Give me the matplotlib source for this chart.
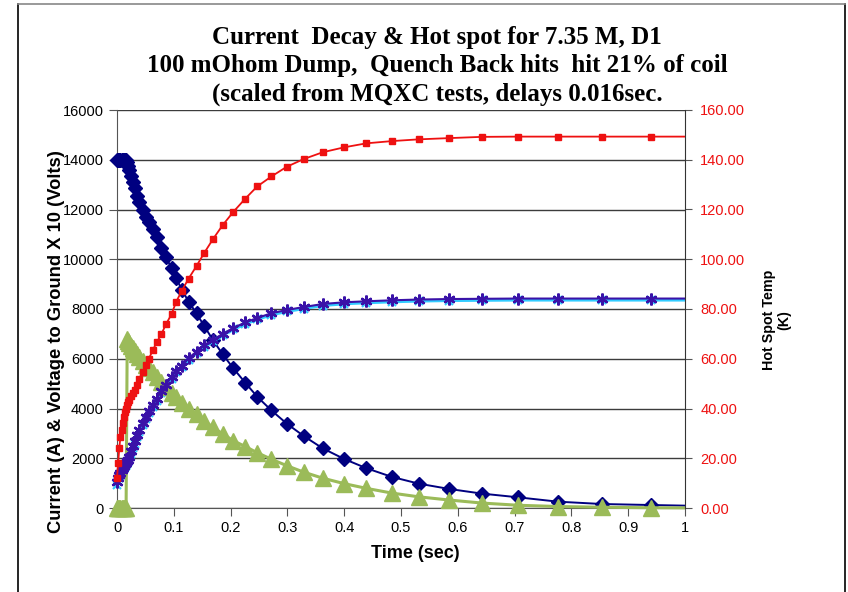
import matplotlib.pyplot as plt
from matplotlib.lines import Line2D
from matplotlib.transforms import Bbox, TransformedBbox

# time grid (sec)
t = [0, 0.002, 0.004, 0.006, 0.008, 0.010, 0.012, 0.014, 0.016,
     0.018, 0.020, 0.022, 0.025, 0.028, 0.031, 0.035, 0.039,
     0.045, 0.051, 0.056, 0.063, 0.070, 0.078, 0.086,
     0.096, 0.104, 0.114, 0.126, 0.140, 0.154, 0.169, 0.186,
     0.205, 0.226, 0.247, 0.272, 0.299, 0.329, 0.362, 0.400,
     0.439, 0.484, 0.531, 0.585, 0.642, 0.706, 0.776, 0.854,
     0.940, 1.034]

# magnet current (A)
current = [14000, 14000, 14000, 14000, 14000, 14000, 14000, 14000, 14000,
           13900, 13750, 13600, 13350, 13100, 12850, 12550, 12300,
           12000, 11700, 11480, 11220, 10880, 10460, 10100,
           9640, 9250, 8780, 8300, 7820, 7300, 6750, 6180,
           5610, 5030, 4470, 3920, 3390, 2890, 2400, 1970,
           1600, 1250, 980, 765, 580, 430, 255, 160,
           120, 80]

# voltage to ground x10 (two coil ends)
volt_a = [1050, 1200, 1320, 1420, 1520, 1600, 1680, 1750, 1820,
          1880, 1940, 2060, 2280, 2500, 2680, 2930, 3140,
          3430, 3670, 3880, 4130, 4390, 4700, 4960,
          5260, 5510, 5720, 6020, 6290, 6550, 6760, 7000,
          7240, 7460, 7640, 7830, 7960, 8080, 8200, 8270,
          8310, 8350, 8380, 8400, 8410, 8420, 8420, 8420,
          8420, 8420]
volt_b = [930, 1080, 1200, 1300, 1400, 1480, 1560, 1630, 1700,
          1770, 1840, 1960, 2180, 2400, 2580, 2840, 3050,
          3350, 3590, 3800, 4050, 4320, 4630, 4890,
          5190, 5450, 5660, 5960, 6230, 6490, 6700, 6940,
          7180, 7400, 7580, 7770, 7900, 8020, 8140, 8210,
          8250, 8290, 8320, 8340, 8350, 8360, 8360, 8360,
          8360, 8360]

# dump voltage x10
dump = [0, 0, 0, 0, 0, 0, 0, 0, 0,
        6800, 6700, 6620, 6520, 6420, 6320, 6200, 6080,
        5900, 5750, 5620, 5460, 5280, 5060, 4870,
        4630, 4450, 4220, 3980, 3760, 3500, 3240, 2980,
        2700, 2470, 2220, 1960, 1700, 1440, 1200, 980,
        790, 600, 450, 320, 200, 110, 60, 30,
        10, 0]

# hot spot temperature (K)
hot_spot = [12, 18, 24, 28.5, 31.5, 34, 36.5, 38.5, 40,
            41.5, 42.5, 43.5, 45, 46.3, 47.5, 49.5, 52,
            54.6, 57.4, 60, 63.4, 66.7, 69.8, 73.8,
            77.9, 82.8, 87.3, 92.2, 97.3, 102.7, 108.1, 113.7,
            119.1, 124.4, 129.3, 133.3, 137.2, 140.3, 143.0, 145.0,
            146.6, 147.5, 148.2, 148.7, 149.2, 149.3, 149.3, 149.3,
            149.3, 149.3]

xticks = [0, 0.1, 0.2, 0.3, 0.4, 0.5, 0.6, 0.7, 0.8, 0.9, 1]
xticklabels = ["0", "0.1", "0.2", "0.3", "0.4", "0.5", "0.6", "0.7", "0.8", "0.9", "1"]

plt.rcParams['font.family'] = ['Liberation Sans', 'DejaVu Sans']

fig = plt.figure(figsize=(8.48, 5.92), dpi=100)
ax = fig.add_axes([117/848, 1-508/592, (685-117)/848, (508-110)/592])

# markers may spill past the left/bottom axis like in Excel, but not past x=1
clip = TransformedBbox(Bbox([[-0.05, -0.05], [1.0, 1.05]]), ax.transAxes)

star = (6, 2, 0)
lines = []
lines += ax.plot(t, current, color='#000080', lw=1.4, marker='D', ms=7, zorder=3)
lines += ax.plot(t, volt_b, color='#33CCFF', lw=2.2, marker='x', ms=5.5, mew=1.5, zorder=3)
lines += ax.plot(t, volt_a, color='#3A12A8', lw=1.5, marker=star, ms=8.5, mew=1.7, zorder=4)
lines += ax.plot(t, dump, color='#9BBB59', lw=2.2, marker='^', ms=11.5, zorder=3)

ax.set_xlim(0, 1)
ax.set_ylim(0, 16000)
ax.set_yticks(range(0, 16001, 2000))
ax.set_xticks(xticks)
ax.set_xticklabels(xticklabels)
ax.yaxis.grid(True, color='#3c3c3c', lw=1.0)
ax.set_axisbelow(True)
ax.tick_params(labelsize=10.5, length=6, color='#555555', direction='out')
ax.tick_params(axis='x', pad=3)
for s in ['top', 'right']:
    ax.spines[s].set_visible(False)
for s in ['left', 'bottom']:
    ax.spines[s].set_color('#555555')

ax2 = ax.twinx()
lines += ax2.plot(t, hot_spot, color='#EE1111', lw=1.3, marker='s', ms=4, zorder=5)
ax2.set_ylim(0, 160)
ax2.set_yticks(range(0, 161, 20))
ax2.set_yticklabels([f"{v:.2f}" for v in range(0, 161, 20)])
ax2.tick_params(labelsize=10.5, labelcolor='#EE1111', length=5, color='#555555', pad=6)
for s in ['top', 'left', 'bottom']:
    ax2.spines[s].set_visible(False)
ax2.spines['right'].set_color('#333333')

for ln in lines:
    ln.set_clip_box(clip)

fig.text(57/848, 1-342/592, "Current (A) & Voltage to Ground X 10 (Volts)",
         rotation=90, ha='center', va='center', fontsize=13.2, fontweight='bold')
fig.text(777/848, 1-320/592, "Hot Spot Temp\n(K)", rotation=90, ha='center',
         va='center', fontsize=10.3, fontweight='bold', linespacing=1.1)
fig.text(415/848, 1-553/592, "Time (sec)", ha='center', va='center',
         fontsize=13, fontweight='bold')

title = ("Current  Decay & Hot spot for 7.35 M, D1\n"
         "100 mOhom Dump,  Quench Back hits  hit 21% of coil\n"
         "(scaled from MQXC tests, delays 0.016sec.")
fig.text(437/848, 1-66/592, title, ha='center', va='center', fontsize=18,
         fontweight='bold', family='Liberation Serif', linespacing=1.3)

# chart frame
fig.add_artist(Line2D([18/848, 18/848], [0, 1-4/592], color='black', lw=1.2))
fig.add_artist(Line2D([845/848, 845/848], [0, 1-4/592], color='black', lw=1.2))
fig.add_artist(Line2D([18/848, 845/848], [1-4/592, 1-4/592], color='#888888', lw=1.2))

fig.savefig("out.png", dpi=100)
